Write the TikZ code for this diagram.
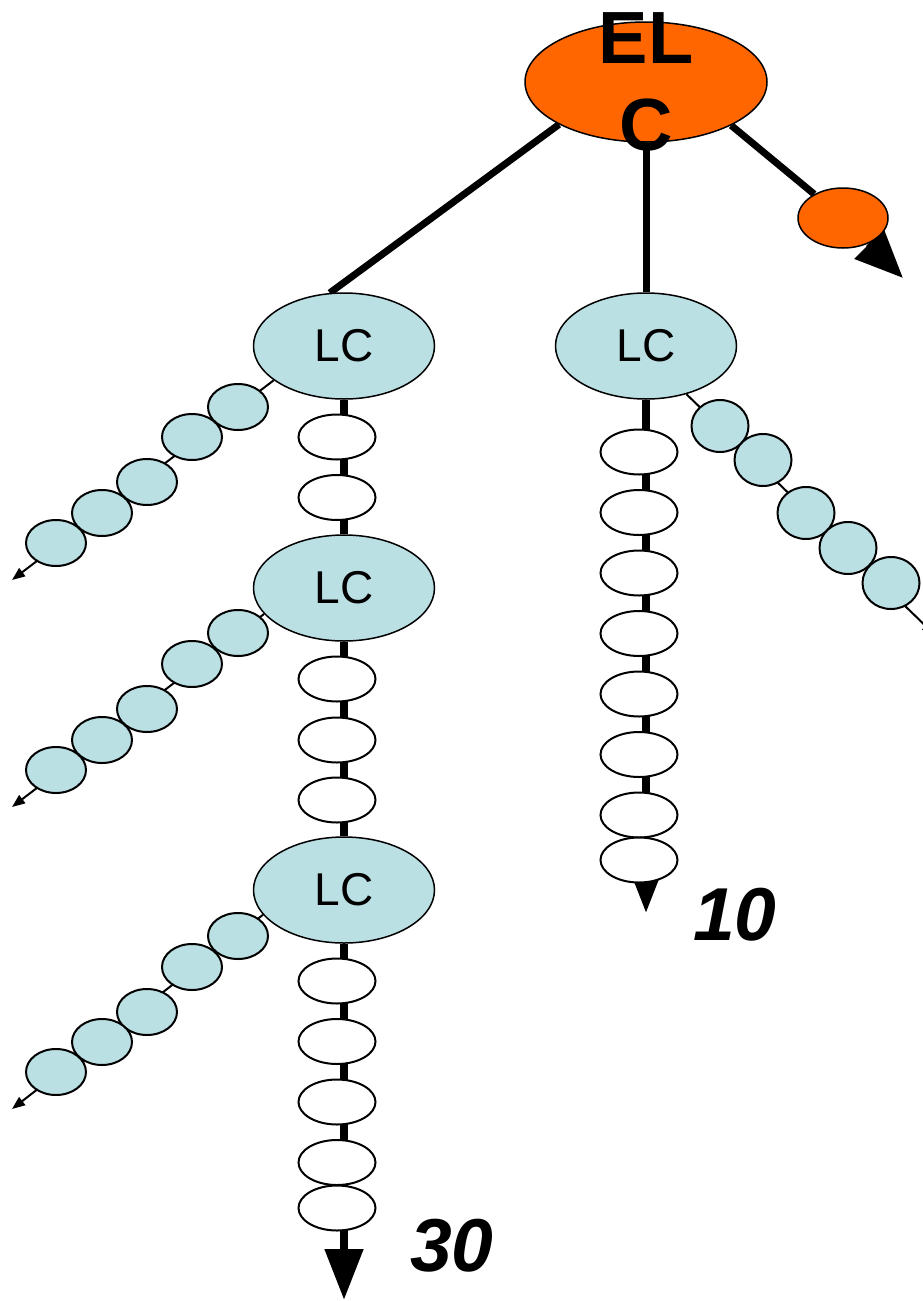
\documentclass[tikz,border=0pt]{standalone}
\usepackage{fontspec}
\setmainfont{Liberation Sans}
\usetikzlibrary{shapes.geometric,arrows.meta,backgrounds}

\definecolor{elcorange}{HTML}{FF6600}
\definecolor{lcblue}{HTML}{BBE0E3}

\begin{document}
\begin{tikzpicture}[x=1pt, y=-1pt,
  every node/.style={inner sep=0pt},
  elcnode/.style={ellipse, draw, line width=1.5pt, fill=elcorange},
  lcnode/.style={ellipse, draw, line width=1.5pt, fill=lcblue, minimum width=181pt, minimum height=106pt, font=\fontsize{46}{50}\selectfont},
  bead/.style={ellipse, draw, line width=2pt, fill=white, minimum width=77pt, minimum height=45pt},
  lbead/.style={ellipse, draw, line width=2pt, fill=lcblue, minimum width=60pt, minimum height=46pt},
  rbead/.style={ellipse, draw, line width=2pt, fill=lcblue, minimum width=57pt, minimum height=52pt},
  trunk/.style={line width=7pt},
  stem/.style={line width=8pt},
  side/.style={line width=2pt, -{Triangle[length=13pt,width=10pt]}},
  count/.style={font=\fontsize{75}{90}\selectfont\bfseries\itshape}
]

  \useasboundingbox (0,0) rectangle (922,1301);

  %% the top
  \node[elcnode, minimum width=242pt, minimum height=120pt,
        label={[font=\fontsize{74}{87}\selectfont\bfseries, align=center]center:{EL\\C}}] (elc) at (646,82) {};
  \node[elcnode, minimum width=90pt, minimum height=60pt] (sm) at (843,218) {};

  %% the LCs
  \node[lcnode] (lc1) at (344,346) {LC};
  \node[lcnode] (lc2) at (646,346) {LC};
  \node[lcnode] (lc3) at (344,588) {LC};
  \node[lcnode] (lc4) at (344,890) {LC};

  %% white ones on the stems
  \foreach \y [count=\i] in {437,497.5,679,740,800,981,1041.5,1102,1162.5,1208}
    \node[bead] (wl\i) at (337,\y) {};
  \foreach \y [count=\i] in {452,512.5,573,633.5,694,754.5,815,860}
    \node[bead] (wr\i) at (639,\y) {};

  %% side chains
  \foreach \x/\y [count=\i] in {238/407,192/437,147/482,102/513,56/543}
    \node[lbead] (ca\i) at (\x,\y) {};
  \foreach \x/\y [count=\i] in {238/633,192/664,147/709,102/740,56/770}
    \node[lbead] (cb\i) at (\x,\y) {};
  \foreach \x/\y [count=\i] in {238/936,192/967,147/1012,102/1042,56/1072}
    \node[lbead] (cc\i) at (\x,\y) {};
  \foreach \x/\y [count=\i] in {720/426,763/460,806/513,848/548,891/583}
    \node[rbead] (cd\i) at (\x,\y) {};

  \coordinate (tipr) at (903,278);
  \coordinate (tip10) at (646,913);
  \coordinate (tip30) at (344,1300);
  \coordinate (ta) at (12,580);
  \coordinate (tb) at (12,807);
  \coordinate (tc) at (12,1109);
  \coordinate (td) at (935,635);

  \node[count] (n10) at (735,915) {10};
  \node[count] (n30) at (452,1246) {30};

  \begin{scope}[on background layer]
    \draw[trunk] (elc.206) -- (lc1.105); %% ELC -> LC
    \draw[trunk] (elc) -- (lc2); %% ELC -> LC
    \draw[trunk] (elc.-27) -- (sm); %% ELC -> small
    \draw[trunk, -{Triangle[length=48pt,width=40pt]}] (sm) -- (tipr);

    \draw[stem] (lc1) -- (lc3);
    \draw[stem] (lc3) -- (lc4);
    \draw[stem, -{Triangle[length=51pt,width=37pt]}] (lc4) -- (tip30);
    \draw[stem, -{Triangle[length=51pt,width=37pt]}] (lc2) -- (tip10);

    \draw[side] (lc1.206) -- (ta);
    \draw[side] (lc3.198) -- (tb);
    \draw[side] (lc4.197) -- (tc);
    \draw[side] (lc2.-50) -- (td);
  \end{scope}

\end{tikzpicture}
\end{document}
